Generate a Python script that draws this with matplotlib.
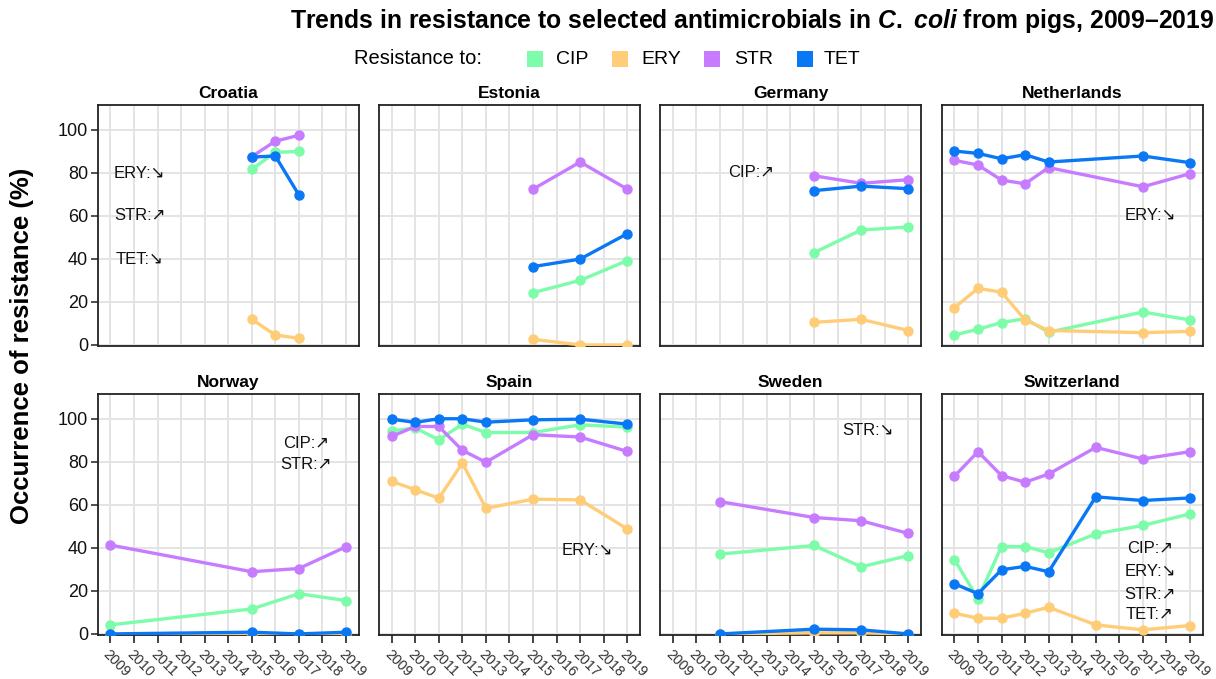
import matplotlib
matplotlib.use("Agg")
import matplotlib.pyplot as plt
from matplotlib.patches import Rectangle

plt.rcParams['font.family'] = ['Liberation Sans', 'DejaVu Sans']
plt.rcParams['mathtext.fontset'] = 'custom'
plt.rcParams['mathtext.rm'] = 'Liberation Sans:bold'
plt.rcParams['mathtext.it'] = 'Liberation Sans:bold:italic'

# ---------------- data ----------------
antimicrobials = ["CIP", "ERY", "STR", "TET"]
colors = ["#7DFCA9", "#FFCD78", "#C77CFF", "#0A78F5"]
countries = ["Croatia", "Estonia", "Germany", "Netherlands",
             "Norway", "Spain", "Sweden", "Switzerland"]
year_ticks = list(range(2009, 2020))
y_ticks = [0, 20, 40, 60, 80, 100]

years_croatia = [2015, 2016, 2017]
croatia = {"CIP": [81.6, 89.5, 89.9], "ERY": [11.9, 4.6, 3.1],
           "STR": [87.5, 94.7, 97.4], "TET": [87.3, 87.8, 69.7]}

years_estonia = [2015, 2017, 2019]
estonia = {"CIP": [24.3, 30.0, 39.2], "ERY": [2.6, 0.0, 0.0],
           "STR": [72.4, 85.0, 72.4], "TET": [36.4, 39.9, 51.7]}

years_germany = [2015, 2017, 2019]
germany = {"CIP": [42.9, 53.4, 54.8], "ERY": [10.5, 11.9, 6.7],
           "STR": [78.6, 75.1, 76.8], "TET": [71.7, 73.8, 72.6]}

years_netherlands = [2009, 2010, 2011, 2012, 2013, 2017, 2019]
netherlands = {"CIP": [4.6, 7.3, 10.4, 12.2, 5.9, 15.3, 11.6],
               "ERY": [17.3, 26.3, 24.5, 11.6, 6.7, 5.7, 6.3],
               "STR": [85.8, 83.6, 76.6, 74.9, 82.4, 73.5, 79.6],
               "TET": [90.1, 89.0, 86.5, 88.4, 85.0, 87.8, 84.7]}

years_norway = [2009, 2015, 2017, 2019]
norway = {"CIP": [4.2, 11.6, 18.7, 15.5], "ERY": [0.0, 0.0, 0.0, 0.0],
          "STR": [41.3, 28.9, 30.4, 40.5], "TET": [0.0, 0.8, 0.0, 0.8]}

years_spain = [2009, 2010, 2011, 2012, 2013, 2015, 2017, 2019]
spain = {"CIP": [94.4, 95.7, 90.2, 97.5, 93.6, 93.6, 97.2, 96.1],
         "ERY": [70.9, 67.0, 63.1, 79.4, 58.4, 62.6, 62.3, 48.8],
         "STR": [91.8, 96.4, 96.4, 85.3, 79.8, 92.6, 91.5, 84.8],
         "TET": [99.8, 98.3, 100.0, 100.0, 98.4, 99.5, 99.8, 97.5]}

years_sweden = [2011, 2015, 2017, 2019]
sweden = {"CIP": [37.1, 41.1, 31.2, 36.4], "ERY": [0.0, 0.5, 0.5, 0.0],
          "STR": [61.5, 54.1, 52.6, 46.7], "TET": [0.0, 2.2, 1.9, 0.0]}

years_switzerland = [2009, 2010, 2011, 2012, 2013, 2015, 2017, 2019]
switzerland = {"CIP": [34.5, 16.4, 40.6, 40.6, 37.7, 46.5, 50.4, 55.8],
               "ERY": [9.6, 7.3, 7.3, 9.6, 12.4, 4.2, 1.9, 3.9],
               "STR": [73.3, 84.7, 73.6, 70.5, 74.3, 86.7, 81.3, 84.7],
               "TET": [23.3, 18.7, 29.8, 31.4, 28.9, 63.7, 62.0, 63.2]}

# trend annotations: (text, x, y)
notes_croatia = [("ERY:\u2198", 2010.25, 79.5), ("STR:\u2197", 2010.25, 60.0), ("TET:\u2198", 2010.25, 39.5)]
notes_estonia = []
notes_germany = [("CIP:\u2197", 2012.35, 80.0)]
notes_netherlands = [("ERY:\u2198", 2017.3, 60.0)]
notes_norway = [("CIP:\u2197", 2017.3, 88.7), ("STR:\u2197", 2017.3, 78.7)]
notes_spain = [("ERY:\u2198", 2017.3, 39.0)]
notes_sweden = [("STR:\u2198", 2017.3, 94.5)]
notes_switzerland = [("CIP:\u2197", 2017.3, 39.7), ("ERY:\u2198", 2017.3, 29.2),
                     ("STR:\u2197", 2017.3, 18.3), ("TET:\u2197", 2017.3, 9.2)]

panel_years = [years_croatia, years_estonia, years_germany, years_netherlands,
               years_norway, years_spain, years_sweden, years_switzerland]
panel_values = [croatia, estonia, germany, netherlands,
                norway, spain, sweden, switzerland]
panel_notes = [notes_croatia, notes_estonia, notes_germany, notes_netherlands,
               notes_norway, notes_spain, notes_sweden, notes_switzerland]

# ---------------- layout ----------------
W, H = 1216, 679
fig = plt.figure(figsize=(W / 100, H / 100), dpi=100)
fig.patch.set_facecolor("white")

col_left = [97.7, 379.0, 660.0, 941.7]
row_top = [105.0, 394.0]
pw, ph = 261.0, 241.0

for i, name in enumerate(countries):
    r, c = divmod(i, 4)
    ax = fig.add_axes([col_left[c] / W, (H - row_top[r] - ph) / H, pw / W, ph / H])
    ax.set_xlim(2008.46, 2019.54)
    ax.set_ylim(-0.5, 111.5)
    ax.set_xticks(year_ticks)
    ax.set_yticks(y_ticks)
    ax.grid(True, color="#E4E4E4", linewidth=1.4)
    ax.set_axisbelow(True)
    for s in ax.spines.values():
        s.set_color("#222222")
        s.set_linewidth(1.3)
    yrs = panel_years[i]
    vals = panel_values[i]
    for ab, col in zip(antimicrobials, colors):
        ax.plot(yrs, vals[ab], color=col, linewidth=2.4, marker="o",
                markersize=6.5, solid_capstyle="round", zorder=3)
    for txt, xx, yy in panel_notes[i]:
        ax.text(xx, yy, txt, ha="center", va="center", fontsize=12, color="#111111")
    ax.set_title(name, fontsize=12.5, fontweight="bold", pad=5)

    if c == 0:
        ax.tick_params(axis="y", length=5, width=1.1, labelsize=13, pad=2,
                       colors="#222222", labelcolor="#111111")
    else:
        ax.tick_params(axis="y", length=0, labelleft=False)
    if r == 1:
        ax.tick_params(axis="x", length=6, width=1.2, labelsize=10.3, pad=2.5,
                       colors="#222222", labelcolor="#333333")
        for lab in ax.get_xticklabels():
            lab.set_rotation(-45)
            lab.set_ha("left")
            lab.set_va("top")
            lab.set_rotation_mode("anchor")
    else:
        ax.tick_params(axis="x", length=0, labelbottom=False)

# y label
fig.text(22 / W, 1 - 346 / H, "Occurrence of resistance (%)", rotation=90,
         ha="center", va="center", fontsize=18.5, fontweight="bold")

# title
fig.text(1214 / W, 1 - 21 / H,
         "Trends in resistance to selected antimicrobials in $C.$ $coli$ from pigs, 2009\u20132019",
         ha="right", va="center", fontsize=17.8, fontweight="bold")

# legend
leg_y = 59
fig.text(354 / W, 1 - leg_y / H, "Resistance to:", ha="left", va="center", fontsize=14.5)
sq_x = [527, 612, 704, 797]
tx_x = [556, 641, 734, 824]
for ab, col, sx, tx in zip(antimicrobials, colors, sq_x, tx_x):
    fig.patches.append(Rectangle((sx / W, (H - leg_y - 8) / H), 16 / W, 16 / H,
                                 transform=fig.transFigure, facecolor=col,
                                 edgecolor="none"))
    fig.text(tx / W, 1 - leg_y / H, ab, ha="left", va="center", fontsize=14)

fig.savefig("out.png", dpi=100, facecolor="white")
